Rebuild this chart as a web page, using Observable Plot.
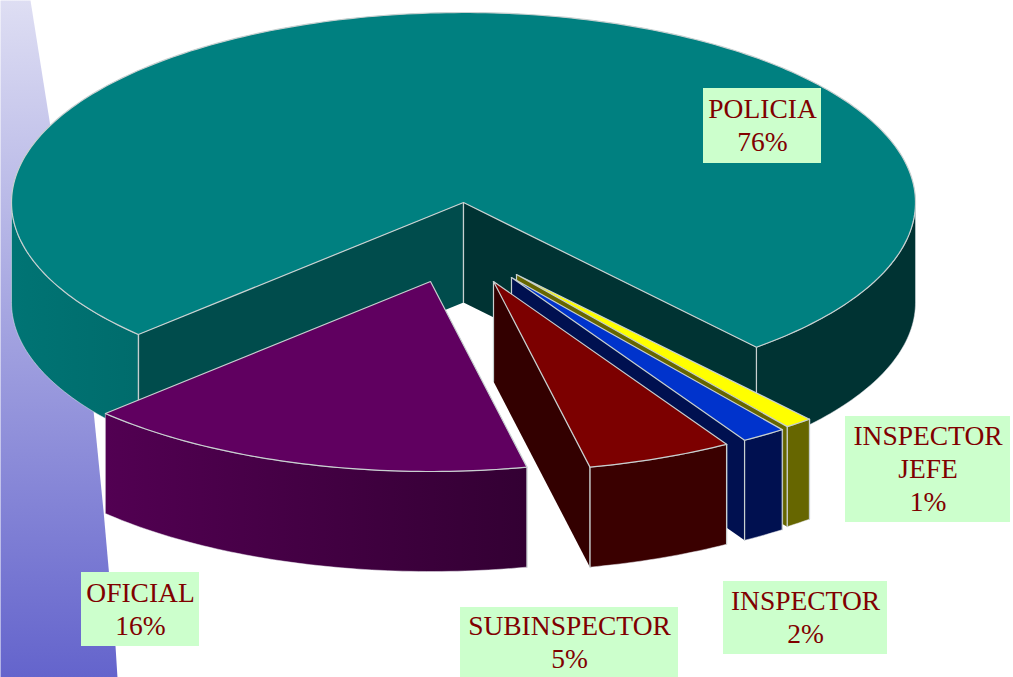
<!DOCTYPE html>
<html>
<head>
<meta charset="utf-8">
<style>html,body{margin:0;padding:0;background:#fff}svg{display:block}</style>
<script src="https://cdn.jsdelivr.net/npm/d3@7"></script>
<script src="https://cdn.jsdelivr.net/npm/@observablehq/plot@0.6"></script>
</head>
<body>
<div id="chart"></div>
<script>
// Data, clockwise from POLICIA
const categories = ["POLICIA", "INSPECTOR JEFE", "INSPECTOR", "SUBINSPECTOR", "OFICIAL"];
const shares = [76.0, 1.0, 1.6, 5.2, 16.2];
const percentLabels = ["76%", "1%", "2%", "5%", "16%"];
const labelLines = [["POLICIA"], ["INSPECTOR", "JEFE"], ["INSPECTOR"], ["SUBINSPECTOR"], ["OFICIAL"]];

// Pie projection
const cx = 463, cy = 202, rx = 452, ry = 190, depth = 100, startAngle = 226;
const explode = [[0, 0], [53, 72], [48, 75], [30, 79], [-33, 79]];
const topColors = ["#008080", "#ffff00", "#0033cc", "#7c0000", "#600060"];
const innerColors = ["#004c4c", "#666600", "#001050", "#330000", "#4d004d"];
const sideColors = ["url(#tealSide)", "#666600", "#001050", "#3a0000", "url(#purpleSide)"];
const edge = "#c8d0d0";

let acc = startAngle;
const slices = categories.map((name, i) => {
  const a0 = acc, a1 = acc + shares[i] * 3.6;
  acc = a1;
  return {name, a0, a1, ox: cx + explode[i][0], oy: cy + explode[i][1], i};
});
const rim = (s, deg) => {
  const t = deg * Math.PI / 180;
  return {x: s.ox + rx * Math.sin(t), y: s.oy - ry * Math.cos(t)};
};
const down = (p) => ({x: p.x, y: p.y + depth});
const poly = (points, fill, stroke = "none", strokeWidth = 1) =>
  Plot.line(points, {x: "x", y: "y", fill, stroke, strokeWidth, curve: "linear-closed"});
const seg = (a, b) =>
  Plot.line([a, b], {x: "x", y: "y", stroke: edge, strokeWidth: 1.2});

function arc(s, from, to) {
  const pts = [];
  const n = Math.max(2, Math.ceil(Math.abs(to - from)));
  for (let k = 0; k <= n; ++k) pts.push(rim(s, from + (to - from) * k / n));
  return pts;
}
function outerWall(s, from, to, fill) {
  const a = arc(s, from, to);
  return poly([...a, ...a.slice().reverse().map(down)], fill, "#e8e8ee", 0.5);
}
function innerWall(s, deg, color) {
  const o = {x: s.ox, y: s.oy}, p = rim(s, deg);
  return [poly([o, p, down(p), down(o)], color), seg(o, down(o))];
}
const corner = (s, deg) => seg(rim(s, deg), down(rim(s, deg)));

function sliceMarks(s) {
  const m = [];
  const c = innerColors[s.i];
  if (s.i === 0) {
    m.push(...innerWall(s, s.a0, c));
    m.push(...innerWall(s, s.a1, "#003333"));
    m.push(outerWall(s, s.a0, 270, sideColors[0]), outerWall(s, 450, s.a1, "#003333"));
    m.push(corner(s, s.a0), corner(s, s.a1));
  } else if (s.i === 4) {
    m.push(outerWall(s, s.a0, s.a1, sideColors[4]));
    m.push(corner(s, s.a0));
  } else {
    m.push(...innerWall(s, s.a1, c));
    m.push(outerWall(s, s.a0, s.a1, sideColors[s.i]));
    m.push(corner(s, s.a0), corner(s, s.a1));
  }
  m.push(poly([{x: s.ox, y: s.oy}, ...arc(s, s.a0, s.a1)], topColors[s.i], edge, 1.2));
  return m;
}

// Label boxes (left, right, top, bottom)
const boxes = [[703, 821, 88, 163], [845, 1010, 416, 522], [723, 887, 581, 654], [460, 678, 607, 677], [81, 199, 572, 646]];
const labels = categories.map((name, i) => ({
  text: [...labelLines[i], percentLabels[i]].join("\n"),
  x1: boxes[i][0], x2: boxes[i][1], y1: boxes[i][2], y2: boxes[i][3]
}));

// Side strip behind the pie
const stripEdge = [[0, 0], [30, 0], [49, 120], [93, 410], [103, 510], [115, 646], [117, 677], [0, 677]]
  .map(([x, y]) => ({x, y}));

const defs = () => {
  const d = d3.create("svg:defs");
  const grad = (id, attrs, stops) => {
    const g = d.append("linearGradient").attr("id", id);
    for (const k in attrs) g.attr(k, attrs[k]);
    stops.forEach(([o, col]) => g.append("stop").attr("offset", o).attr("stop-color", col));
  };
  grad("strip", {x1: 0, x2: 0, y1: 0, y2: 1}, [["0%", "#dedef3"], ["100%", "#6464cc"]]);
  const user = (x1, x2) => ({gradientUnits: "userSpaceOnUse", x1, x2, y1: 0, y2: 0});
  grad("tealSide", user(12, 137), [["0%", "#007474"], ["100%", "#006c6c"]]);
  grad("purpleSide", user(105, 527), [["0%", "#520052"], ["100%", "#330033"]]);
  return d.node();
};

const order = [0, 1, 2, 3, 4];
const chart = Plot.plot({
  width: 1013,
  height: 677,
  margin: 0,
  x: {domain: [0, 1013], axis: null},
  y: {domain: [677, 0], axis: null},
  style: {background: "#fff"},
  marks: [
    defs,
    poly(stripEdge, "url(#strip)"),
    ...order.flatMap((i) => sliceMarks(slices[i])),
    Plot.rect(labels, {x1: "x1", x2: "x2", y1: "y1", y2: "y2", fill: "#ccffcc"}),
    Plot.text(labels, {
      x: (d) => (d.x1 + d.x2) / 2,
      y: (d) => (d.y1 + d.y2) / 2 - 2,
      text: "text",
      fill: "#800000",
      fontFamily: "Liberation Serif",
      fontSize: 27.5,
      lineHeight: 1.2,
      textAnchor: "middle"
    })
  ]
});
document.getElementById("chart").append(chart);
</script>
</body>
</html>
